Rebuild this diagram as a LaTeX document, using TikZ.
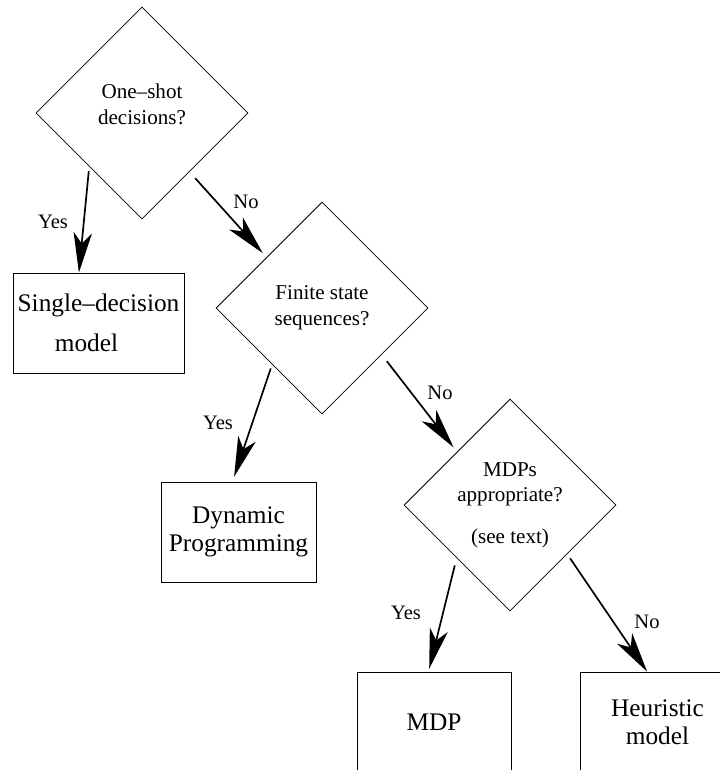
\documentclass[tikz,border=0pt]{standalone}
\usepackage{fontspec}
\setmainfont{Liberation Serif}
\usepackage{tikz}
\usetikzlibrary{
    shapes.geometric,
    arrows.meta,
    positioning,
    calc
}

\begin{document}
\begin{tikzpicture}[
    x=0.025cm, y=-0.025cm,
    question/.style={
        diamond, draw, line width=0.6pt, aspect=1, inner sep=0pt,
        minimum width=5.3cm, minimum height=5.3cm,
        align=center, font=\fontsize{15}{18.4}\selectfont
    },
    outcome/.style={
        rectangle, draw, line width=0.6pt, minimum height=2.5cm,
        align=center, font=\fontsize{18}{20}\selectfont
    },
    answer/.style={font=\fontsize{14.6}{16}\selectfont, inner sep=0pt},
    flow/.style={
        line width=1.2pt,
        -{Stealth[length=1cm, width=0.46cm, inset=0.27cm]}
    }
]
    \useasboundingbox (0,0) rectangle (720,770);
    \clip (0,0) rectangle (720,770);

    % Questions
    \node[question] (oneshot) at (142,113) {One–shot\\decisions?\\[-6pt]\mbox{}};
    \node[question] (finite) at (322,308) {Finite state\\sequences?};
    \node[question] (mdpq) at (510,505) {MDPs\\appropriate?\\[11pt](see text)};

    % Outcomes
    \node[outcome,minimum width=4.225cm] (single) at (98.5,323)
        {Single–decision\\[8pt]model\hspace*{0.6cm}};
    \node[outcome,minimum width=3.875cm] (dynprog) at (238.5,532) {Dynamic\\Programming};
    \node[outcome,minimum width=3.85cm] (mdp) at (434,722) {MDP};
    \node[outcome,minimum width=3.875cm] (heur) at (657.5,722) {Heuristic\\model};

    % Answers
    \node[answer] (yes1) at (53,222) {Yes};
    \node[answer] (no1) at (246,202) {No};
    \node[answer] (yes2) at (218,423) {Yes};
    \node[answer] (no2) at (440,393) {No};
    \node[answer] (yes3) at (406,613) {Yes};
    \node[answer] (no3) at (647,622) {No};

    % Arrows
    \draw[flow] ([yshift=-0.12cm]oneshot.south west) -- ([xshift=-0.49cm]single.north);
    \draw[flow] ([yshift=-0.3cm]oneshot.south east) -- ([xshift=-0.15cm,yshift=0.04cm]finite.north west);
    \draw[flow] ([xshift=0.05cm,yshift=-0.18cm]finite.south west) -- ([xshift=-0.11cm,yshift=0.12cm]dynprog.north);
    \draw[flow] ([xshift=0.29cm]finite.south east) -- ([xshift=-0.08cm,yshift=0.11cm]mdpq.north west);
    \draw[flow] ([xshift=-0.05cm,yshift=-0.18cm]mdpq.south west) -- ([xshift=-0.12cm,yshift=0.07cm]mdp.north);
    \draw[flow] ([xshift=0.17cm]mdpq.south east) -- ([xshift=-0.26cm]heur.north);
\end{tikzpicture}
\end{document}
